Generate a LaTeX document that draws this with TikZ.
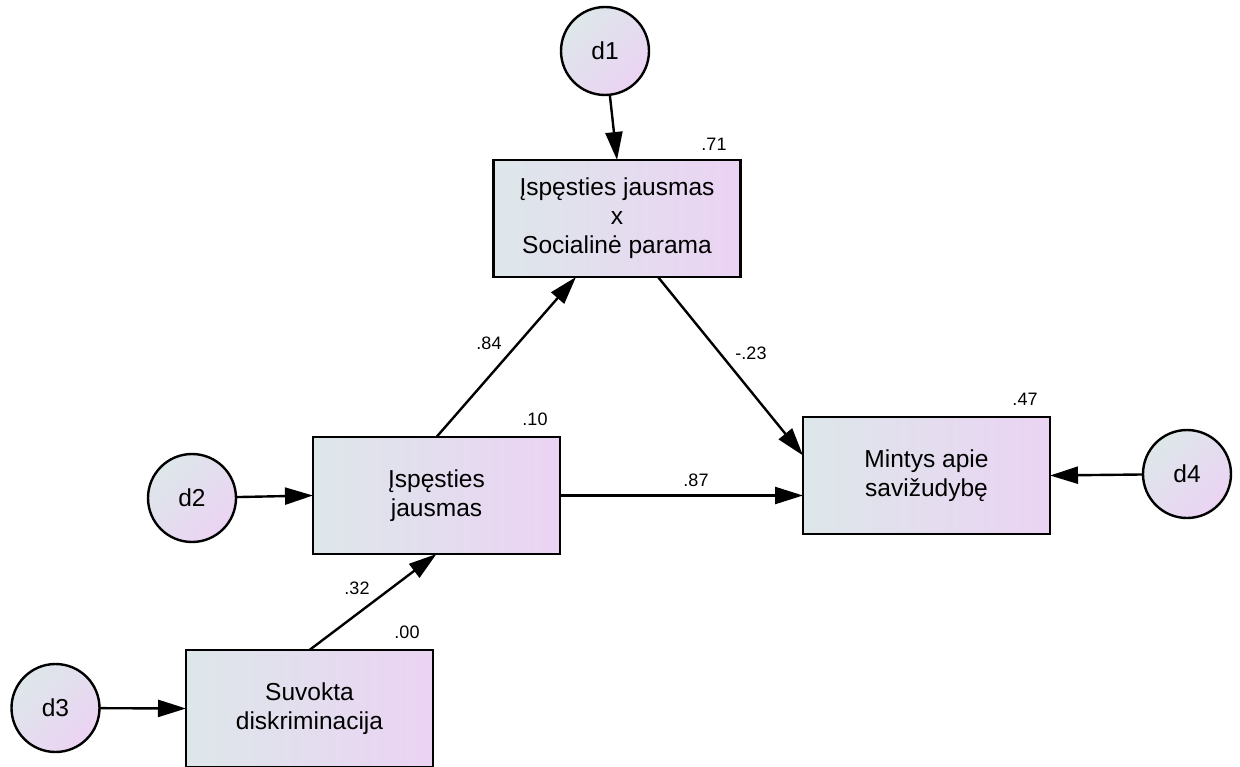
\documentclass[tikz,border=0pt]{standalone}
\usepackage{fontspec}
\setmainfont{Liberation Sans}
\usetikzlibrary{arrows.meta,calc}
\definecolor{gA}{HTML}{DDE7EA}
\definecolor{gB}{HTML}{EBD3F3}
\begin{document}
\begin{tikzpicture}[x=0.75pt,y=-0.75pt,
  var/.style={draw=black, line width=2.1pt, left color=gA, right color=gB,
    minimum width=185.25pt, minimum height=87.75pt, inner sep=0pt, outer sep=0pt,
    align=center, font=\fontsize{18.4}{21.8}\selectfont},
  err/.style={circle, draw=black, line width=1.8pt, left color=gA, right color=gB,
    shading angle=45, minimum size=66pt, inner sep=0pt, outer sep=0pt,
    font=\fontsize{18.4}{21.8}\selectfont},
  arr/.style={-{Triangle[length=21pt,width=12.75pt]}, line width=1.8pt},
  lbl/.style={font=\fontsize{13.5}{15}\selectfont, inner sep=0pt}
]
\useasboundingbox[fill=white] (0,0) rectangle (1240,767);

\node[var] (b1) at (617,218.5) {Įspęsties jausmas\\x\\Socialinė parama};
\node[var] (b2) at (436.5,495.5) {Įspęsties\\jausmas};
\node[var] (b3) at (309.5,708.5) {Suvokta\\diskriminacija};
\node[var] (b4) at (926.5,475.5) {Mintys apie\\savižudybę};

\node[err] (d1) at (605,51) {d1};
\node[err] (d2) at (192,498) {d2};
\node[err] (d3) at (55.5,708) {d3};
\node[err] (d4) at (1187,474) {d4};

\draw[arr] (d1) -- (b1.north);
\draw[arr] (d2) -- (b2.west);
\draw[arr] (d3) -- (b3.west);
\draw[arr] (d4) -- (b4.east);
\draw[arr] (b3.north) -- (b2.south);
\draw[arr] (b2.north) -- ($(b1.south)+(-41,0)$);
\draw[arr] ($(b1.south)+(41,0)$) -- ($(b4.west)+(0,-20)$);
\draw[arr] (b2.east) -- (b2.east -| b4.west);

\node[lbl] (l71) at (714,144) {.71};
\node[lbl] (l10) at (535,419) {.10};
\node[lbl] (l47) at (1025,399) {.47};
\node[lbl] (l00) at (407,632) {.00};
\node[lbl] (l84) at (489,343) {.84};
\node[lbl] (l23) at (751,353) {-.23};
\node[lbl] (l87) at (696,480) {.87};
\node[lbl] (l32) at (357,588) {.32};
\end{tikzpicture}
\end{document}
